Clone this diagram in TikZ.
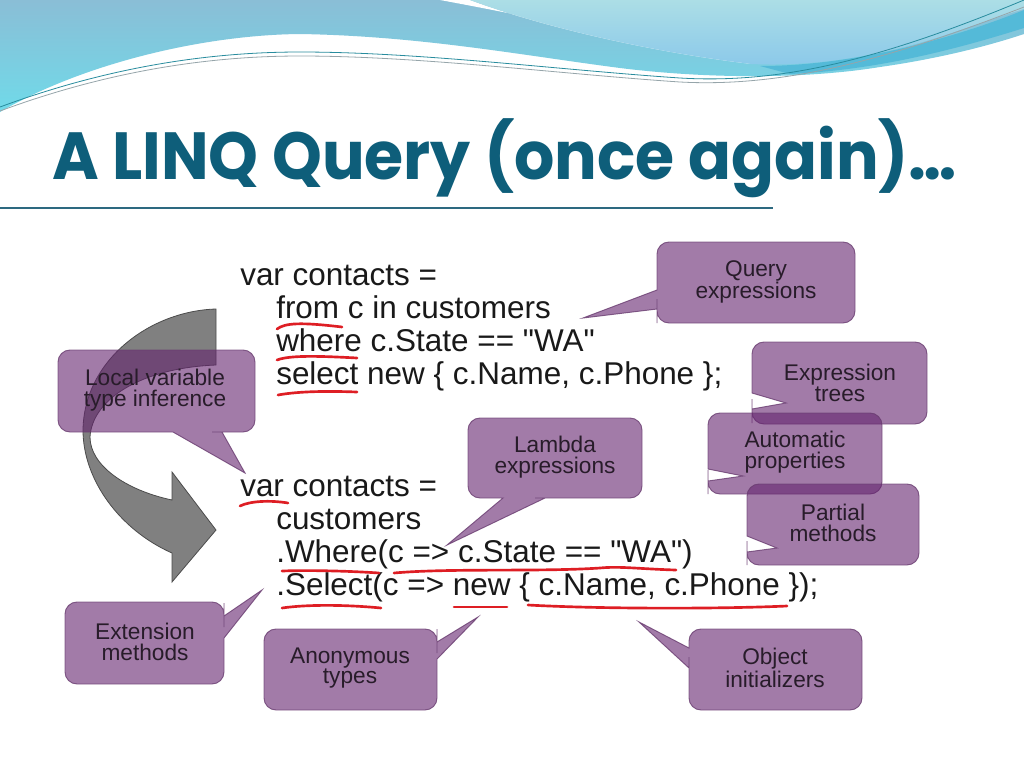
\documentclass[tikz,border=0pt]{standalone}
\usepackage{fontspec}
\setmainfont{Liberation Sans}
\newfontfamily\codefont{Liberation Sans}
\newfontfamily\titlefont{Poppins}
\usetikzlibrary{shadings}
\definecolor{bgA1}{RGB}{138,190,214}
\definecolor{bgA2}{RGB}{112,218,233}
\definecolor{bgC1}{RGB}{172,222,230}
\definecolor{bgC2}{RGB}{138,200,234}
\definecolor{bgStrip}{RGB}{84,186,216}
\definecolor{waveline}{RGB}{40,140,158}
\definecolor{waveline2}{RGB}{150,165,170}
\definecolor{titlec}{RGB}{14,94,122}
\definecolor{rulec}{RGB}{45,105,128}
\definecolor{codec}{RGB}{25,25,25}
\definecolor{cpurple}{RGB}{100,35,110}
\definecolor{cborder}{RGB}{105,60,112}
\definecolor{ctextc}{RGB}{40,28,42}
\definecolor{ured}{RGB}{222,30,36}
\definecolor{arrowfill}{RGB}{128,128,128}
\definecolor{arrowdraw}{RGB}{75,75,75}
\tikzset{
  callout/.style={fill=cpurple, fill opacity=0.6, draw=cborder, draw opacity=0.8, line width=0.7pt},
  ctext/.style={font=\fontsize{17}{15.5}\selectfont, text=ctextc, align=center, inner sep=0pt},
  code/.style={font=\codefont\fontsize{23.6}{28}\selectfont, text=codec, anchor=base west, inner sep=0pt},
  uline/.style={draw=ured, line width=2pt, line cap=round},
  grayarrow/.style={fill=arrowfill, draw=arrowdraw, line width=0.6pt},
}
\begin{document}
\begin{tikzpicture}[x=0.75pt, y=-0.75pt]
\useasboundingbox (0,0) rectangle (1024,768);
\fill[white] (0,0) rectangle (1024,768);
% --- top wave decoration ---
\shade[top color=bgA1, bottom color=bgA2]
  (0,0) -- (0,112) .. controls (80,65) and (200,35) .. (300,34)
  .. controls (420,36) and (520,55) .. (620,68)
  .. controls (700,78) and (800,80) .. (880,67)
  .. controls (950,57) and (1000,42) .. (1024,34) -- (1024,0) -- cycle;
\fill[white] (440,0) .. controls (560,22) and (680,50) .. (752,64)
  .. controls (650,52) and (540,26) .. (470,0) -- cycle;
\fill[bgStrip] (760,66) .. controls (850,66) and (950,40) .. (1024,10) -- (1024,28)
  .. controls (960,48) and (880,70) .. (790,74) -- cycle;
\shade[top color=bgC1, bottom color=bgC2]
  (470,0) .. controls (540,26) and (650,52) .. (752,64)
  .. controls (830,68) and (910,48) .. (960,30)
  .. controls (990,20) and (1010,13) .. (1024,9) -- (1024,0) -- cycle;
\draw[waveline, line width=0.6pt] (0,107) .. controls (100,70) and (200,52) .. (300,52)
  .. controls (420,52) and (560,70) .. (680,78) .. controls (780,84) and (880,60) .. (1024,0);
\draw[waveline2, line width=0.6pt] (0,111) .. controls (100,74) and (200,56) .. (300,56)
  .. controls (420,56) and (560,74) .. (680,82) .. controls (790,88) and (900,55) .. (1024,7);
% --- title ---
\node[anchor=base west, inner sep=0pt, text=titlec, font={\titlefont\bfseries\fontsize{50}{60}\selectfont}] (title) at (52,179) {\scalebox{0.95}[1]{A LINQ Query (once again)…}};
\draw[rulec, line width=1pt] (0,208) -- (773,208);
% --- code ---
\node[code] (l1) at (240,285) {var contacts =};
\node[code] (l2) at (276,318) {from c in customers};
\node[code] (l3) at (276,351) {where c.State == "WA"};
\node[code] (l4) at (276,384) {select new \{ c.Name, c.Phone \};};
\node[code] (l5) at (240,496) {var contacts =};
\node[code] (l6) at (276,529) {customers};
\node[code] (l7) at (276,562) {.Where(c => c.State == "WA")};
\node[code] (l8) at (276,595) {.Select(c => new \{ c.Name, c.Phone \});};
% --- red underlines ---
\draw[uline] (277,329) .. controls (285,323) and (300,322) .. (342,327);
\draw[uline] (277,360) .. controls (290,355) and (320,356) .. (357,358);
\draw[uline] (278,395) .. controls (300,391) and (330,391) .. (357,392);
\draw[uline] (240,506) .. controls (250,501) and (270,500) .. (288,503);
\draw[uline] (282,571) .. controls (310,570) and (350,571) .. (379,573);
\draw[uline] (394,573) .. controls (450,568) and (540,572) .. (600,568) .. controls (620,566) and (640,569) .. (676,570);
\draw[uline] (282,608) .. controls (310,604) and (350,605) .. (381,608);
\draw[uline] (454,607) -- (507,607);
\draw[uline] (528,605) .. controls (600,609) and (720,609) .. (787,606);
% --- curved arrow ---
\path[grayarrow] (216,309) .. controls (150,311) and (84,360) .. (83,430)
  .. controls (83,480) and (120,530) .. (172,553) -- (172,582) -- (216,530) -- (172,472) -- (172,500)
  .. controls (125,490) and (90,465) .. (90,437)
  .. controls (92,400) and (140,368) .. (216,365) -- cycle;
% --- callouts ---
\path[callout] (756,242) [rounded corners=9pt] -- (855,242) -- (855,323) -- (657,323) -- (657,311)
  [sharp corners] -- (657,309) -- (583,318) -- (657,290) -- (657,288)
  [rounded corners=9pt] -- (657,242) -- cycle;
\path[callout] (840,342) [rounded corners=9pt] -- (927,342) -- (927,424) -- (752,424) -- (752,411)
  [sharp corners] -- (752,409) -- (786,403) -- (752,393) -- (752,391)
  [rounded corners=9pt] -- (752,342) -- cycle;
\path[callout] (795,413) [rounded corners=9pt] -- (882,413) -- (882,494) -- (708,494) -- (708,482)
  [sharp corners] -- (708,481) -- (743,476) -- (708,469) -- (708,468)
  [rounded corners=9pt] -- (708,413) -- cycle;
\path[callout] (833,484) [rounded corners=9pt] -- (919,484) -- (919,565) -- (747,565) -- (747,553)
  [sharp corners] -- (747,552) -- (777,548) -- (747,536) -- (747,535)
  [rounded corners=9pt] -- (747,484) -- cycle;
\path[callout] (156,350) [rounded corners=9pt] -- (255,350) -- (255,432) -- (224,432)
  [sharp corners] -- (222,432) -- (245,473) -- (173,432) -- (171,432)
  [rounded corners=9pt] -- (58,432) -- (58,350) -- cycle;
\path[callout] (555,418) [rounded corners=9pt] -- (642,418) -- (642,498) -- (547,498)
  [sharp corners] -- (545,498) -- (447,545) -- (503,498) -- (501,498)
  [rounded corners=9pt] -- (468,498) -- (468,418) -- cycle;
\path[callout] (145,602) [rounded corners=9pt] -- (224,602) -- (224,615)
  [sharp corners] -- (224,616) -- (262,590) -- (224,638) -- (224,640)
  [rounded corners=9pt] -- (224,684) -- (65,684) -- (65,602) -- cycle;
\path[callout] (350,629) [rounded corners=9pt] -- (437,629) -- (437,641)
  [sharp corners] -- (437,642) -- (478,617) -- (437,659) -- (437,660)
  [rounded corners=9pt] -- (437,710) -- (264,710) -- (264,629) -- cycle;
\path[callout] (775,629) [rounded corners=9pt] -- (862,629) -- (862,710) -- (689,710) -- (689,669)
  [sharp corners] -- (689,668) -- (639,622) -- (689,648) -- (689,647)
  [rounded corners=9pt] -- (689,629) -- cycle;
% --- callout texts ---
\node[ctext] (qe) at (756,282) {Query\\expressions};
\node[ctext] (et) at (840,383) {Expression\\trees};
\node[ctext] (ap) at (795,452) {Automatic\\properties};
\node[ctext] (pm) at (833,523) {Partial\\methods};
\node[ctext] (lv) at (155,390) {Local variable\\type inference};
\node[ctext] (le) at (555,457) {Lambda\\expressions};
\node[ctext] (em) at (145,642) {Extension\\methods};
\node[ctext] (at) at (350,668) {Anonymous\\types};
\node[ctext] (oi) at (775,668) {Object\\initializers};
\end{tikzpicture}
\end{document}
